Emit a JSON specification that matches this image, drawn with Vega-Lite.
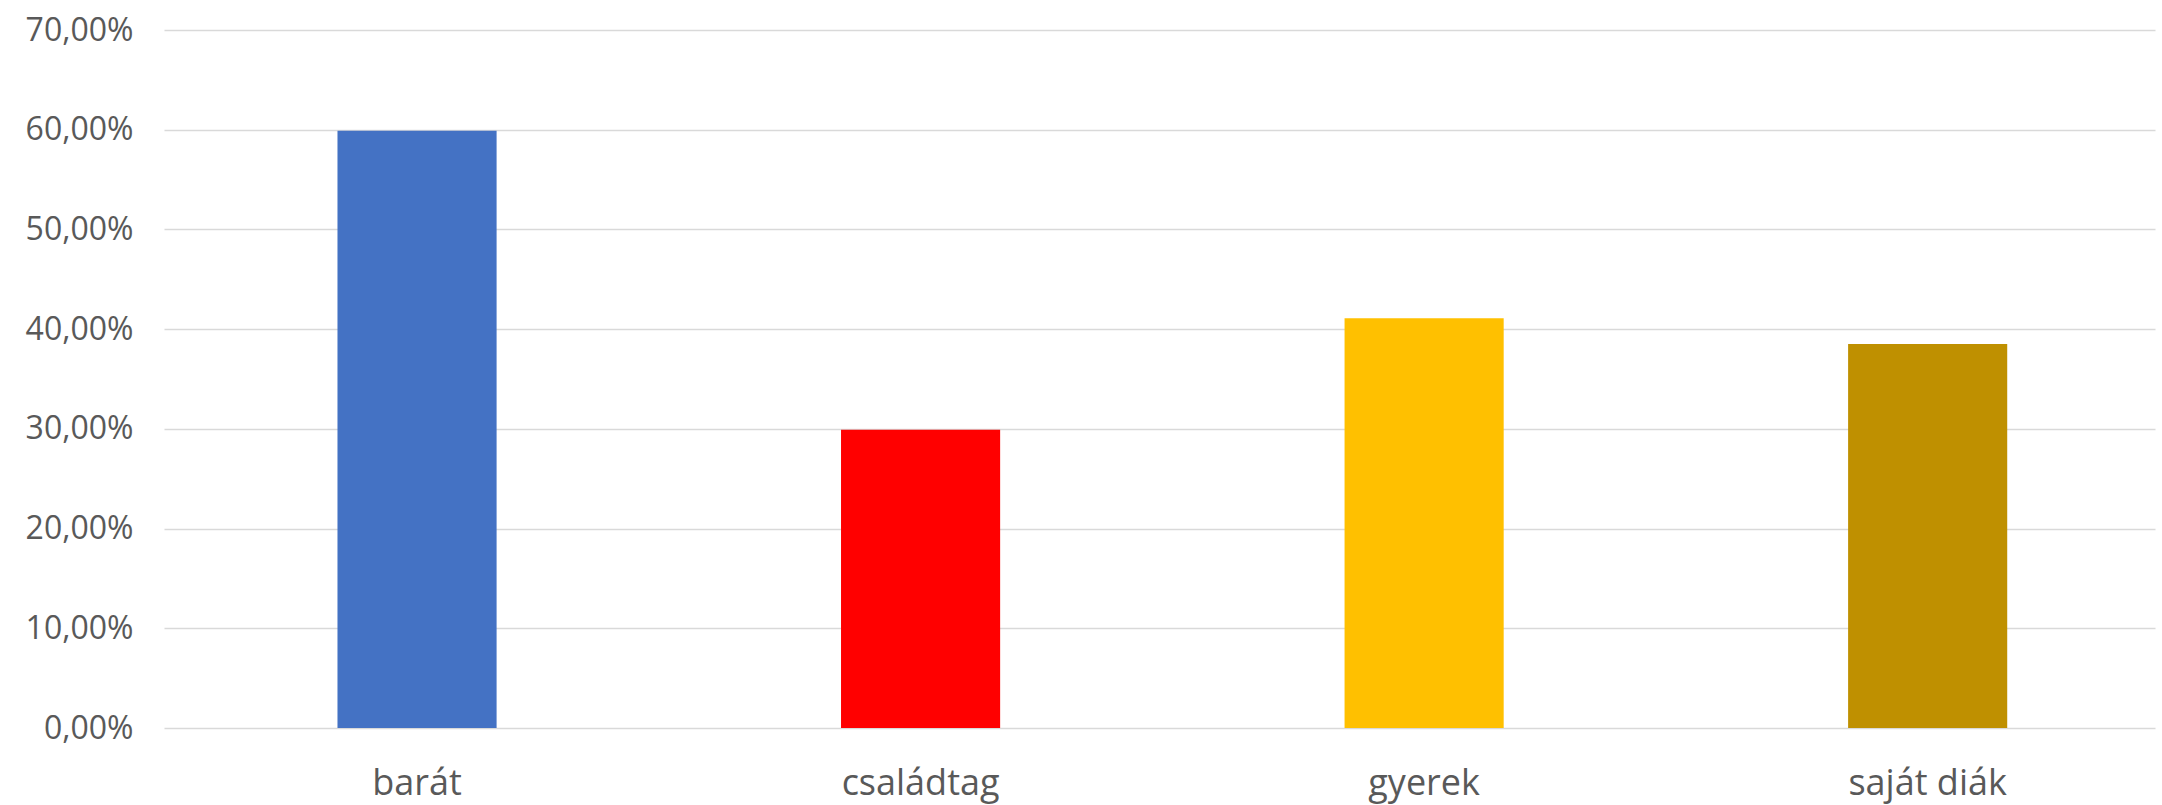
{
  "$schema": "https://vega.github.io/schema/vega-lite/v6.json",
  "autosize": "none",
  "width": 1991,
  "height": 698,
  "padding": {"left": 164, "top": 30, "right": 7, "bottom": 77},
  "background": "white",
  "config": {"view": {"stroke": null}, "font": "Open Sans"},
  "data": {"values": [
    {"kategoria": "barát", "ertek": 0.599, "szin": "#4472C4"},
    {"kategoria": "családtag", "ertek": 0.299, "szin": "#FF0000"},
    {"kategoria": "gyerek", "ertek": 0.411, "szin": "#FFC000"},
    {"kategoria": "saját diák", "ertek": 0.385, "szin": "#BF9000"}
  ]},
  "mark": {"type": "bar"},
  "encoding": {
    "x": {
      "field": "kategoria", "type": "nominal", "sort": null,
      "scale": {"paddingInner": 0.684, "paddingOuter": 0.319, "align": 0.54},
      "axis": {"title": null, "labelAngle": 0, "domain": false, "ticks": false, "labelFontSize": 36, "labelColor": "#595959", "labelPadding": 38, "labelFont": "Open Sans"}
    },
    "y": {
      "field": "ertek", "type": "quantitative",
      "scale": {"domain": [0, 0.7], "nice": false},
      "axis": {"title": null, "values": [0, 0.1, 0.2, 0.3, 0.4, 0.5, 0.6, 0.7], "labelExpr": "replace(format(datum.value, '.2%'), '.', ',')", "domain": false, "ticks": false, "grid": true, "gridColor": "#d9d9d9", "gridWidth": 1.5, "labelFontSize": 32, "labelColor": "#595959", "labelPadding": 31, "labelFont": "Open Sans"}
    },
    "color": {"field": "szin", "type": "nominal", "scale": null, "legend": null}
  }
}
